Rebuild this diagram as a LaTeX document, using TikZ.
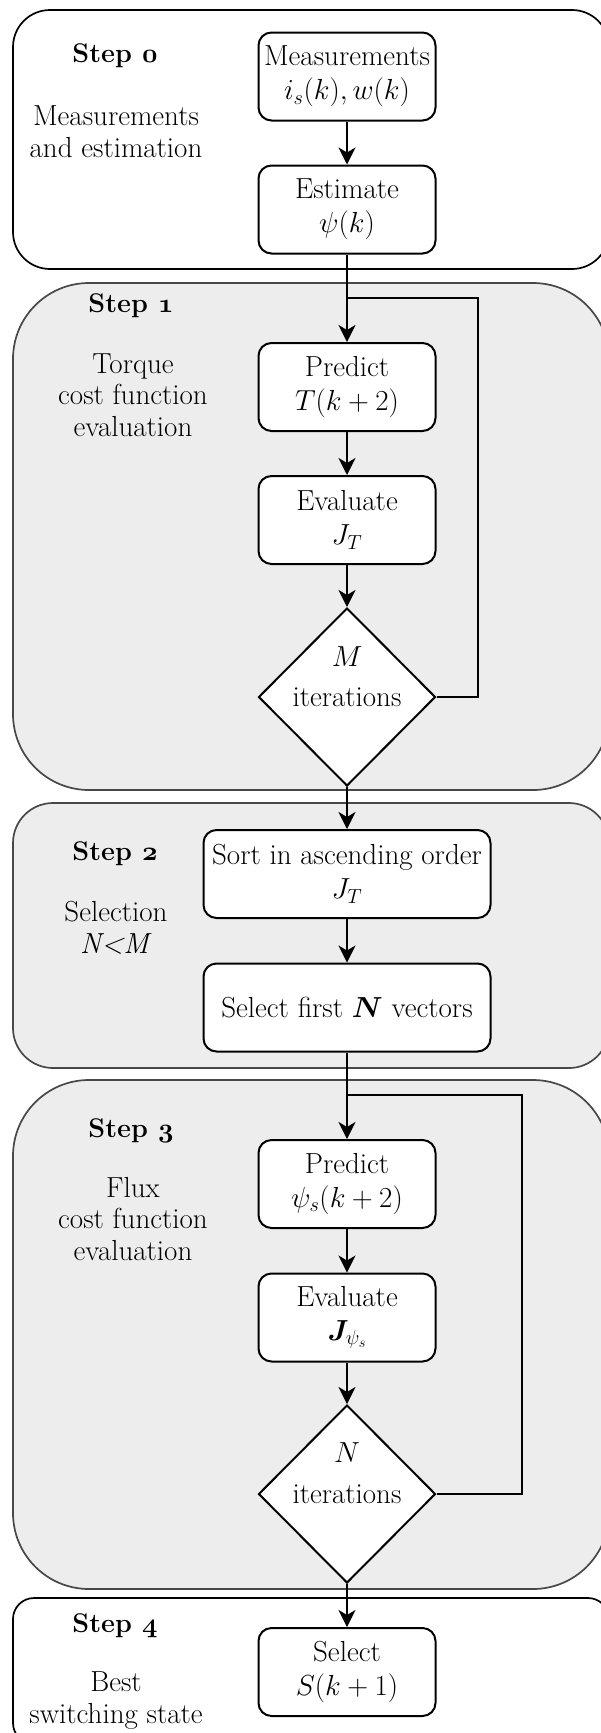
\RequirePackage{fix-cm}
\documentclass[tikz,border=0pt]{standalone}
\usepackage{fontspec}
\usepackage{bm}
\usetikzlibrary{shapes.geometric,arrows.meta}
\definecolor{stepgrey}{RGB}{237,237,237}
\definecolor{stepedge}{RGB}{72,72,72}
\newcommand\osnum[1]{{\fontencoding{OML}\fontfamily{cmm}\fontseries{b}\fontshape{it}\selectfont #1}}
\begin{document}
\begin{tikzpicture}[x=1pt,y=-1pt,
  every node/.style={font=\fontsize{29}{34}\selectfont},
  proc/.style={draw=black, line width=2pt, rounded corners=13pt, fill=white, minimum width=177pt, minimum height=88pt, inner sep=0pt, align=center},
  wideproc/.style={proc, minimum width=287pt},
  dec/.style={draw=black, line width=2pt, diamond, fill=white, minimum width=177pt, minimum height=178pt, inner sep=0pt},
  lbl/.style={anchor=base, align=center, inner sep=0pt, font=\fontsize{29}{31.5}\selectfont},
  steplbl/.style={anchor=base, inner sep=0pt, font=\fontsize{27}{31}\selectfont\bfseries},
  dtext/.style={inner sep=0pt},
  arr/.style={line width=2pt, -{Stealth[length=17pt,width=17pt,inset=5pt]}},
  loopline/.style={line width=1.7pt},
  whitebox/.style={draw=black, line width=1.7pt, fill=white},
  greybox/.style={draw=stepedge, line width=1.7pt, fill=stepgrey},
]
\useasboundingbox (0,0) rectangle (601,1733);
\fill[white] (0,0) rectangle (601,1733);
\begin{scope}
\clip (0,0) rectangle (601,1733);
\draw[whitebox, rounded corners=37pt] (13,10) rectangle (609,269);
\draw[greybox, rounded corners=76pt] (13,283) rectangle (609,790);
\draw[greybox, rounded corners=40pt] (13,803) rectangle (609,1068);
\draw[greybox, rounded corners=76pt] (13,1080) rectangle (609,1589);
\draw[whitebox, rounded corners=21pt] (13,1598) rectangle (609,1744);
\end{scope}

% left labels (base = baseline of last line)
\node[steplbl] (s0) at (115,62) {Step \osnum{0}};
\node[lbl] (l0) at (116,157) {Measurements\\and estimation};
\node[steplbl] (s1) at (131,312) {Step \osnum{1}};
\node[lbl] (l1) at (133,436) {Torque\\cost function\\evaluation};
\node[steplbl] (s2) at (115,860) {Step \osnum{2}};
\node[lbl] (l2) at (116,953) {Selection\\\textit{N<M}};
\node[steplbl] (s3) at (131,1137) {Step \osnum{3}};
\node[lbl] (l3) at (133,1260) {Flux\\cost function\\evaluation};
\node[steplbl] (s4) at (115,1632) {Step \osnum{4}};
\node[lbl] (l4) at (116,1723) {Best\\switching state};

% flow nodes
\node[proc] (meas) at (347,76.5) {Measurements\\$i_s(k), w(k)$};
\node[proc] (est) at (347,209.5) {Estimate\\$\psi(k)$};
\node[proc] (pT) at (347,387) {Predict\\$T(k+2)$};
\node[proc] (eT) at (347,520) {Evaluate\\$J_T$};
\node[dec] (dM) at (347,697) {};
\node[dtext] (dMa) at (347,657) {$M$};
\node[dtext] (dMb) at (347,697) {iterations};
\node[wideproc] (sort) at (347,874) {Sort in ascending order\\$J_T$};
\node[wideproc] (selN) at (347,1007.5) {Select first $\bm{N}$ vectors};
\node[proc] (pPsi) at (347,1184) {Predict\\$\psi_s(k+2)$};
\node[proc] (ePsi) at (347,1317.5) {Evaluate\\$\bm{J}_{\psi_s}$};
\node[dec] (dN) at (347,1494) {};
\node[dtext] (dNa) at (347,1453) {$N$};
\node[dtext] (dNb) at (347,1494) {iterations};
\node[proc] (selS) at (347,1672) {Select\\$S(k+1)$};

\coordinate (j1) at (347,298);
\coordinate (r1) at (478,298);
\coordinate (j2) at (347,1095);
\coordinate (r2) at (522,1095);

% connectors
\draw[arr] (meas.south) -- (est.north);
\draw[arr] (est.south) -- (pT.north);
\draw[arr] (pT.south) -- (eT.north);
\draw[arr] (eT.south) -- (dM.north);
\draw[arr] (dM.south) -- (sort.north);
\draw[arr] (sort.south) -- (selN.north);
\draw[arr] (selN.south) -- (pPsi.north);
\draw[arr] (pPsi.south) -- (ePsi.north);
\draw[arr] (ePsi.south) -- (dN.north);
\draw[arr] (dN.south) -- (selS.north);
\draw[loopline] (dM.east) -| (r1) -- (j1);
\draw[loopline] (dN.east) -| (r2) -- (j2);
\end{tikzpicture}
\end{document}
